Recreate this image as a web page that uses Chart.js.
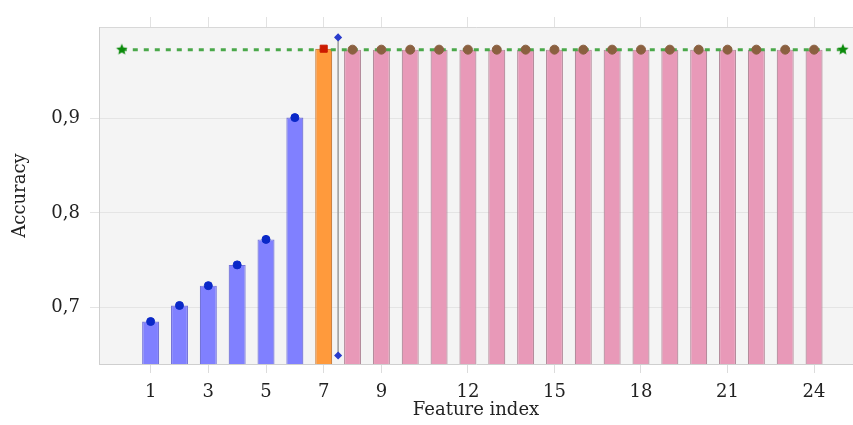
<!DOCTYPE html>
<html>
<head>
<meta charset="utf-8">
<script src="https://cdn.jsdelivr.net/npm/chart.js@4"></script>
<style>
  html, body { margin: 0; padding: 0; background: #fff; }
  #wrap { position: relative; width: 853px; height: 425px; }
</style>
</head>
<body>
<div id="wrap"><canvas id="chart"></canvas></div>
<script>
// feature indices and accuracy
const featureIdx = [1, 2, 3, 4, 5, 6, 7, 8, 9, 10, 11, 12, 13, 14, 15, 16, 17, 18, 19, 20, 21, 22, 23, 24];
const accuracy = [0.685, 0.702, 0.723, 0.745, 0.772, 0.901, 0.974,
    0.973, 0.973, 0.973, 0.973, 0.973, 0.973, 0.973, 0.973, 0.973, 0.973, 0.973, 0.973, 0.973, 0.973, 0.973, 0.973, 0.973];
const groups = ['sel', 'sel', 'sel', 'sel', 'sel', 'sel', 'best', 'rest', 'rest', 'rest', 'rest', 'rest',
    'rest', 'rest', 'rest', 'rest', 'rest', 'rest', 'rest', 'rest', 'rest', 'rest', 'rest', 'rest'];
const refLineX = [0, 25];
const refLineY = [0.973, 0.973];
const cutLineX = [7.5, 7.5];
const cutLineY = [0.649, 0.986];
const xTicks = [1, 3, 5, 7, 9, 12, 15, 18, 21, 24];
const yTicks = [0.7, 0.8, 0.9];

const barFill = { sel: '#8080ff', best: '#ff9a3c', rest: '#e899b8' };
const barEdge = { sel: '#7474d8', best: '#cc8444', rest: '#b48c9c' };
const dotColor = { sel: '#0a28c8', best: '#cc1a00', rest: '#8a6040' };

const pts = featureIdx.map((x, i) => ({ x: x, y: accuracy[i] }));
const pick = g => featureIdx.map((x, i) => ({ x: x, y: accuracy[i], g: groups[i] })).filter(p => p.g === g);

// filled five point star for the reference line ends
function starImage(r, color) {
    const c = document.createElement('canvas');
    c.width = c.height = r * 2 + 2;
    const ctx = c.getContext('2d');
    ctx.fillStyle = color;
    ctx.beginPath();
    for (let k = 0; k < 10; k++) {
        const rad = k % 2 === 0 ? r : r * 0.45;
        const a = -Math.PI / 2 + k * Math.PI / 5;
        ctx.lineTo(r + 1 + rad * Math.cos(a), r + 1 + rad * Math.sin(a));
    }
    ctx.closePath();
    ctx.fill();
    return c;
}

const plotBg = {
    id: 'plotBg',
    beforeDraw(chart) {
        const a = chart.chartArea, ctx = chart.ctx;
        ctx.save();
        ctx.fillStyle = '#f4f4f4';
        ctx.fillRect(a.left, a.top, a.right - a.left, a.bottom - a.top);
        ctx.restore();
    }
};

const serif = 'DejaVu Serif';
const xMin = -0.79, xMax = 25.35;

new Chart(document.getElementById('chart'), {
    type: 'bar',
    data: {
        datasets: [
            {
                type: 'bar',
                data: pts,
                backgroundColor: groups.map(g => barFill[g]),
                borderColor: groups.map(g => barEdge[g]),
                borderWidth: 1.2,
                barPercentage: 0.59,
                categoryPercentage: 1,
                order: 3
            },
            {
                type: 'line',
                data: refLineX.map((x, i) => ({ x: x, y: refLineY[i] })),
                borderColor: '#4aa84a',
                borderWidth: 3,
                borderDash: [5, 6],
                pointStyle: starImage(6, '#0a8a0a'),
                pointRadius: 6,
                order: 2
            },
            {
                type: 'line',
                data: cutLineX.map((x, i) => ({ x: x, y: cutLineY[i] })),
                borderColor: '#9a9a9a',
                borderWidth: 1.5,
                pointStyle: 'rectRot',
                pointRadius: 3,
                pointBackgroundColor: '#2a3ccc',
                pointBorderColor: '#2a3ccc',
                order: 2
            },
            {
                type: 'scatter',
                data: pick('sel'),
                pointRadius: 4,
                pointBackgroundColor: dotColor.sel,
                pointBorderColor: dotColor.sel,
                order: 1
            },
            {
                type: 'scatter',
                data: pick('best'),
                pointStyle: 'rect',
                pointRadius: 5,
                pointBackgroundColor: dotColor.best,
                pointBorderColor: dotColor.best,
                order: 1
            },
            {
                type: 'scatter',
                data: pick('rest'),
                pointRadius: 4.5,
                pointBackgroundColor: dotColor.rest,
                pointBorderColor: dotColor.rest,
                order: 1
            }
        ]
    },
    options: {
        responsive: true,
        maintainAspectRatio: false,
        animation: false,
        layout: { padding: 0, autoPadding: false },
        plugins: { legend: { display: false }, tooltip: { enabled: false } },
        scales: {
            x: {
                type: 'linear',
                min: xMin, max: xMax,
                offset: false,
                afterBuildTicks: s => { s.ticks = xTicks.map(v => ({ value: v })); },
                afterFit: s => { s.height = 61; },
                grid: { drawOnChartArea: false, offset: false, tickLength: 9, color: '#dcdcdc' },
                border: { color: '#cfcfcf' },
                ticks: { color: '#222', font: { family: serif, size: 18 }, padding: 9, maxRotation: 0 },
                title: { display: true, text: 'Feature index', color: '#222', font: { family: serif, size: 18 }, padding: { top: 0, bottom: 4 } }
            },
            xTop: {
                type: 'linear',
                position: 'top',
                min: xMin, max: xMax,
                offset: false,
                afterBuildTicks: s => { s.ticks = xTicks.map(v => ({ value: v })); },
                afterFit: s => { s.height = 27; },
                grid: { drawOnChartArea: false, offset: false, tickLength: 10, color: '#e2e2e2' },
                border: { color: '#d8d8d8' },
                ticks: { display: false }
            },
            y: {
                min: 0.64, max: 0.997,
                afterBuildTicks: s => { s.ticks = yTicks.map(v => ({ value: v })); },
                afterFit: s => { s.width = 99; },
                grid: { color: '#e4e4e4', tickLength: 9 },
                border: { color: '#cfcfcf' },
                ticks: {
                    color: '#222', font: { family: serif, size: 18 }, padding: 10,
                    callback: v => v.toFixed(1).replace('.', ',')
                },
                title: { display: true, text: 'Accuracy', color: '#222', font: { family: serif, size: 18 }, padding: { top: 10, bottom: 0 } }
            }
        }
    },
    plugins: [plotBg]
});
</script>
</body>
</html>
